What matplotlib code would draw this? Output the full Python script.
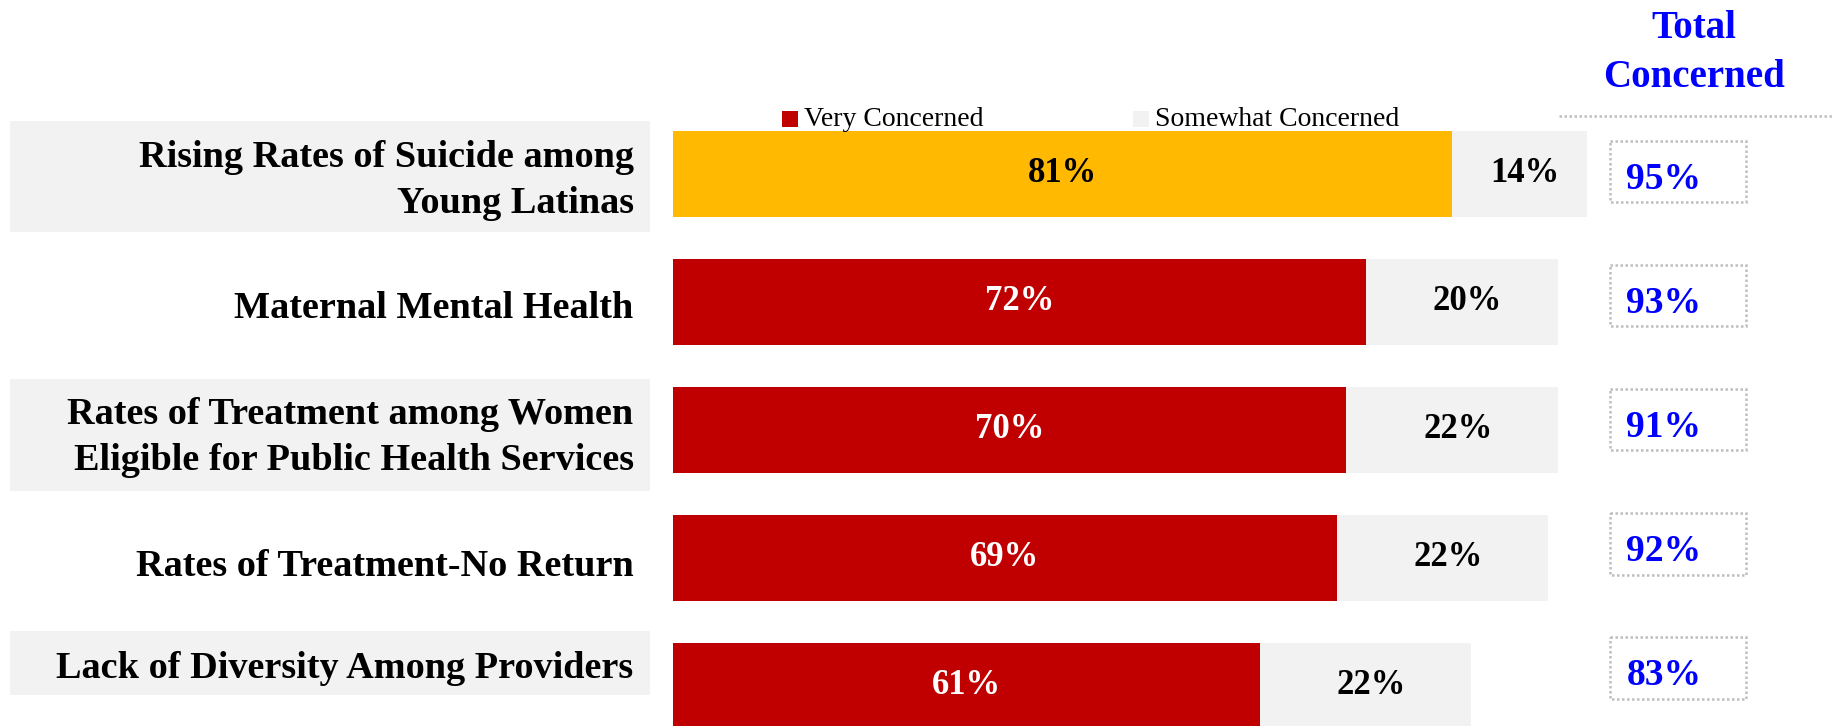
import matplotlib
matplotlib.use("Agg")
import matplotlib.pyplot as plt
from matplotlib.patches import Rectangle
from matplotlib.lines import Line2D

plt.rcParams['font.family'] = ['Liberation Serif', 'DejaVu Serif']

# survey data
issues = [
    "Rising Rates of Suicide among\nYoung Latinas",
    "Maternal Mental Health",
    "Rates of Treatment among Women\nEligible for Public Health Services",
    "Rates of Treatment-No Return",
    "Lack of Diversity Among Providers",
]
very = [81, 72, 70, 69, 61]
somewhat = [14, 20, 22, 22, 22]
total = [95, 93, 91, 92, 83]

RED = "#C00000"
YELLOW = "#FFB900"
GRAY = "#F2F2F2"
BLUE = "#0000FF"
DOT = "#BFBFBF"

W, H = 1832, 726
fig = plt.figure(figsize=(W / 100, H / 100), dpi=100)

# bar axes: 0% sits at x=673px, 100% at 1635px; row 0 centred at 174px, 128px per row
ax = fig.add_axes([673 / W, 0, 962 / W, 1])
ax.set_xlim(0, 100)
ax.set_ylim((H - 174) / 128, -174 / 128)
ax.axis("off")

rows = list(range(len(issues)))
colors = [YELLOW] + [RED] * (len(issues) - 1)
ax.barh(rows, very, height=0.67, color=colors)
ax.barh(rows, somewhat, left=very, height=0.67, color=GRAY)

for i in rows:
    ax.text(very[i] / 2, i, f"{very[i]}%", ha="center", va="center",
            fontsize=25, fontweight="bold",
            color="black" if i == 0 else "white")
    ax.text(very[i] + somewhat[i] / 2 + 0.6, i, f"{somewhat[i]}%", ha="center",
            va="center", fontsize=25, fontweight="bold", color="black")

# issue labels, shaded on alternate rows
label_nudge = [0.05, 0.05, 0.06, 0.07, -0.14]
box_nudge = [0.02, 0.0, 0.04, 0.0, -0.18]
for i in rows:
    y = i + label_nudge[i]
    if i % 2 == 0:
        two_lines = "\n" in issues[i]
        h = 0.87 if two_lines else 0.5
        yb = i + box_nudge[i]
        ax.add_patch(Rectangle((-68.9, yb - h / 2), 66.5, h, facecolor=GRAY,
                               edgecolor="none", clip_on=False))
    ax.text(-4.1, y, issues[i], ha="right", va="center", fontsize=27.5,
            fontweight="bold", linespacing=1.4, clip_on=False)

# total concerned column
for i in rows:
    y = i * 0.97 - 0.02
    ax.add_patch(Rectangle((97.4, y - 0.24), 14.1, 0.48, facecolor="none",
                           edgecolor=DOT, linestyle=(0, (1, 1)), linewidth=1.8,
                           clip_on=False))
    ax.text(99.1, y + 0.06, f"{total[i]}%", ha="left", va="center",
            fontsize=27, fontweight="bold", color=BLUE, clip_on=False)

fig.text(1694 / W, 1 - 53 / H, "Total\nConcerned", ha="center", va="center",
         fontsize=28, fontweight="bold", color=BLUE, linespacing=1.4)
fig.add_artist(Line2D([1559 / W, 1], [1 - 116 / H] * 2, color=DOT,
                      linestyle=(0, (1, 1)), linewidth=1.8,
                      transform=fig.transFigure))

# legend
for x0, col, name in [(782, RED, "Very Concerned"), (1133, GRAY, "Somewhat Concerned")]:
    fig.add_artist(Rectangle((x0 / W, 1 - 127 / H), 16 / W, 16 / H, facecolor=col,
                             edgecolor="none", transform=fig.transFigure))
    fig.text((x0 + 22) / W, 1 - 119 / H, name, ha="left", va="center",
             fontsize=20)

fig.savefig("out.png", dpi=100)
